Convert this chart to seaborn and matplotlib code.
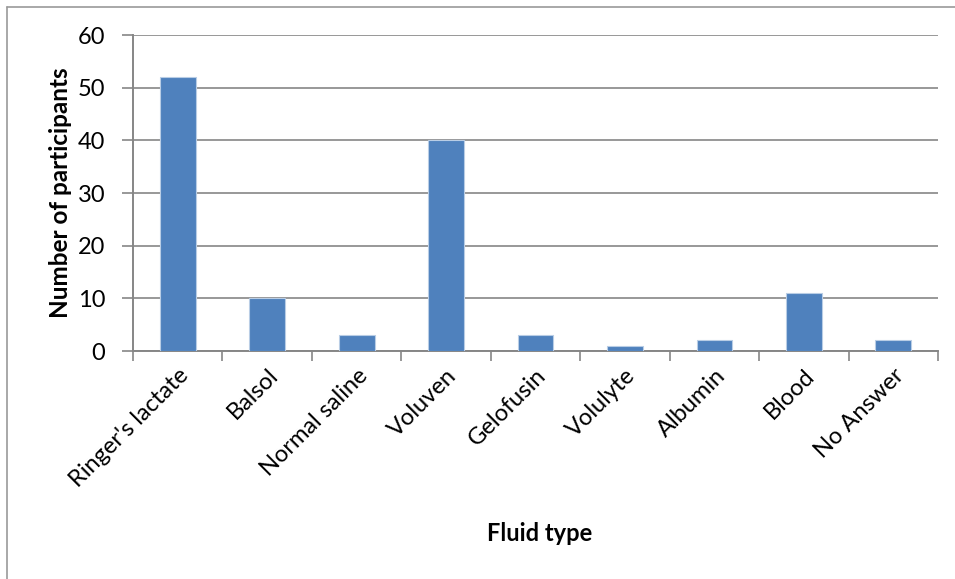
import pandas as pd
import numpy as np
import matplotlib
matplotlib.use("Agg")
import matplotlib.pyplot as plt
from matplotlib.lines import Line2D
import seaborn as sns

# Data
fluids = ["Ringer's lactate", 'Balsol', 'Normal saline', 'Voluven', 'Gelofusin',
          'Volulyte', 'Albumin', 'Blood', 'No Answer']
participants = [52, 10, 3, 40, 3, 1, 2, 11, 2]
y_ticks = [0, 10, 20, 30, 40, 50, 60]

df = pd.DataFrame({'Fluid': fluids, 'Count': participants})

sns.set_style('white')
plt.rcParams['font.family'] = ['Lato', 'DejaVu Sans']
plt.rcParams['text.color'] = 'black'
plt.rcParams['axes.labelcolor'] = 'black'

fig = plt.figure(figsize=(9.55, 5.79), dpi=100)
ax = fig.add_axes([133 / 955, 1 - 351 / 579, (938 - 133) / 955, (351 - 35) / 579])

sns.barplot(data=df, x='Fluid', y='Count', color='#4F81BD', width=0.4,
            saturation=1, edgecolor='#B9CDE5', linewidth=0.8, ax=ax, zorder=3)

grid_c = '#868686'
ax.set_ylim(0, 60)
ax.set_xlim(-0.5, len(fluids) - 0.5)
ax.set_yticks(y_ticks)
ax.yaxis.grid(True, color=grid_c, linewidth=1.2, zorder=0)
ax.set_axisbelow(True)

# category boundary tick marks on the x axis
ax.set_xticks(np.arange(len(fluids)))
ax.set_xticklabels(fluids, rotation=45, ha='right', va='top',
                   rotation_mode='anchor', fontsize=17)
ax.set_xticks(np.arange(-0.5, len(fluids)), minor=True)
ax.tick_params(axis='x', which='major', length=0, pad=10, labelcolor='black')
ax.tick_params(axis='x', which='minor', length=7, width=1.2, color=grid_c,
               direction='out', bottom=True)
ax.tick_params(axis='y', length=8, width=1.2, color=grid_c, direction='out',
               left=True, labelsize=17, pad=12, labelcolor='black')

for s in ['top', 'right']:
    ax.spines[s].set_visible(False)
for s in ['left', 'bottom']:
    ax.spines[s].set_color(grid_c)
    ax.spines[s].set_linewidth(1.4)

ax.set_ylabel('Number of participants', fontsize=17.5, fontweight='bold')
ax.set_xlabel('Fluid type', fontsize=17, fontweight='bold')
ax.yaxis.set_label_coords(-0.076, 0.5)
ax.xaxis.set_label_coords(0.505, (351 - 522) / (351 - 35))

# outer chart frame (top and left edges visible)
fig.add_artist(Line2D([7 / 955, 1], [1 - 7 / 579] * 2, color='#9A9A9A', lw=1.2))
fig.add_artist(Line2D([7 / 955] * 2, [0, 1 - 7 / 579], color='#9A9A9A', lw=1.2))

fig.savefig('out.png', dpi=100)
